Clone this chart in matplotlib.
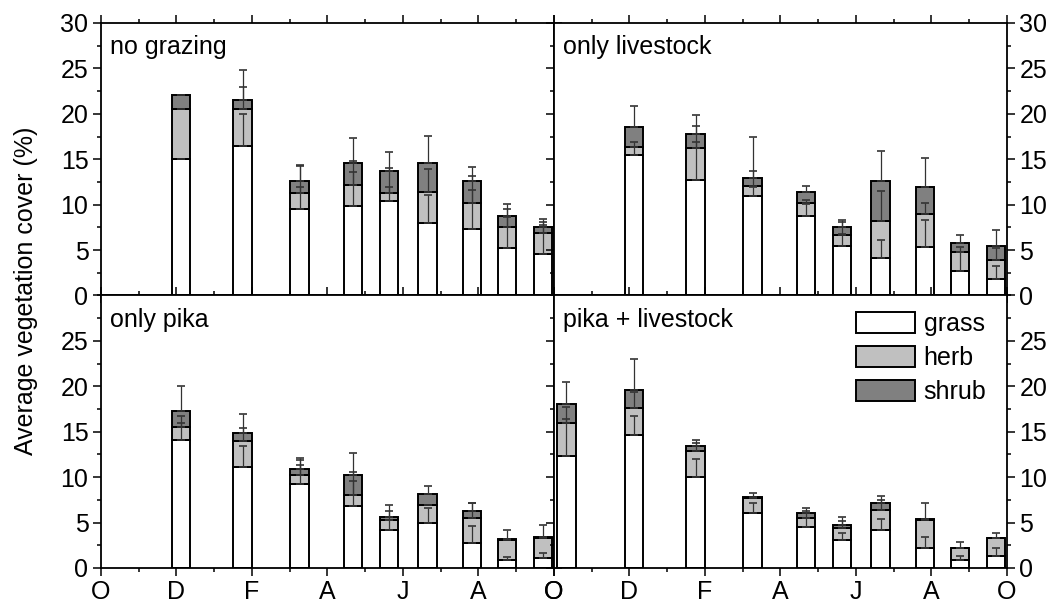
import numpy as np
import matplotlib
matplotlib.use('Agg')
import matplotlib.pyplot as plt
from matplotlib.ticker import MultipleLocator

plt.rcParams['font.family'] = ['Liberation Sans', 'DejaVu Sans']
plt.rcParams['font.size'] = 18

# months counted from 1 October
month_labels = ['O', 'D', 'F', 'A', 'J', 'A', 'O']
x_dates = [2.11, 3.75, 5.26, 6.68, 7.63, 8.65, 9.82, 10.75, 11.72]
x_dates_pl = [0.33] + x_dates

nan = np.nan

# no grazing
ng_grass = [15.0, 16.45, 9.5, 9.8, 10.35, 7.95, 7.3, 5.2, 4.6]
ng_herb = [5.55, 4.1, 1.75, 2.4, 0.95, 3.45, 2.9, 2.35, 2.25]
ng_shrub = [1.5, 1.0, 1.35, 2.35, 2.4, 3.2, 2.4, 1.15, 0.7]
ng_grass_se = [nan, 3.55, 2.45, 3.8, 1.55, 3.1, 4.3, 3.4, 3.2]
ng_herb_se = [nan, 2.4, 3.0, 2.6, 2.75, 2.55, 2.95, 2.0, 1.25]
ng_shrub_se = [nan, 3.25, 1.8, 2.8, 2.15, 2.95, 1.6, 1.35, 0.85]

# only livestock
ol_grass = [15.5, 12.75, 10.9, 8.7, 5.45, 4.1, 5.3, 2.65, 1.85]
ol_herb = [0.9, 3.5, 1.1, 1.45, 1.25, 4.1, 3.7, 2.1, 2.1]
ol_shrub = [2.1, 1.5, 0.95, 1.25, 0.8, 4.35, 2.9, 1.0, 1.55]
ol_grass_se = [1.4, 4.2, 1.0, 1.35, 1.35, 2.0, 3.05, 2.1, 1.4]
ol_herb_se = [nan, 2.4, 1.75, 0.4, 1.35, 3.3, 1.2, 0.55, 1.3]
ol_shrub_se = [2.35, 2.15, 4.45, 0.67, 0.85, 3.35, 3.25, 0.95, 1.7]

# only pika
op_grass = [14.05, 11.1, 9.25, 6.8, 4.2, 4.9, 2.7, 0.85, 1.15]
op_herb = [1.45, 2.85, 1.0, 1.2, 1.1, 2.05, 2.75, 2.25, 2.2]
op_shrub = [1.8, 0.95, 0.65, 2.2, 0.35, 1.2, 0.8, 0.05, 0.05]
op_grass_se = [1.9, 2.35, 2.1, 2.75, 1.05, 1.7, 1.95, 0.35, 0.5]
op_herb_se = [1.2, 1.5, 1.65, 2.55, 1.0, nan, 1.7, nan, nan]
op_shrub_se = [2.7, 2.05, 1.2, 2.5, 1.3, 0.85, 0.95, 1.05, 1.35]

# pika + livestock
pl_grass = [12.3, 14.6, 10.0, 6.05, 4.5, 3.1, 4.15, 2.15, 0.9, 1.3]
pl_herb = [3.7, 3.05, 2.9, 1.7, 1.05, 1.35, 2.25, 3.15, 1.3, 1.95]
pl_shrub = [2.05, 1.95, 0.55, 0.05, 0.5, 0.3, 0.8, 0.05, 0.0, 0.05]
pl_grass_se = [4.1, 2.1, 2.05, 1.15, 0.95, 0.8, 1.2, 1.25, 0.4, 0.95]
pl_herb_se = [1.7, 1.7, 0.85, nan, 0.7, 0.75, 1.1, nan, nan, nan]
pl_shrub_se = [2.45, 3.45, 0.65, 0.4, 0.6, 0.9, 0.7, 1.75, 0.65, 0.6]

panels = [
    ('no grazing', x_dates, ng_grass, ng_herb, ng_shrub, ng_grass_se, ng_herb_se, ng_shrub_se),
    ('only livestock', x_dates, ol_grass, ol_herb, ol_shrub, ol_grass_se, ol_herb_se, ol_shrub_se),
    ('only pika', x_dates, op_grass, op_herb, op_shrub, op_grass_se, op_herb_se, op_shrub_se),
    ('pika + livestock', x_dates_pl, pl_grass, pl_herb, pl_shrub, pl_grass_se, pl_herb_se, pl_shrub_se),
]

colors = ['white', '#c0c0c0', '#808080']
names = ['grass', 'herb', 'shrub']
bw = 0.48

fig, axs = plt.subplots(2, 2, figsize=(10.53, 6.05), dpi=100)
fig.subplots_adjust(left=0.0959, right=0.9563, top=0.962, bottom=0.0612, wspace=0, hspace=0)

for i, (title, xs, g, h, s, ge, he, se) in enumerate(panels):
    ax = axs.flat[i]
    xs = np.array(xs)
    parts = [np.array(g), np.array(h), np.array(s)]
    errs = [np.array(ge), np.array(he), np.array(se)]
    bottom = np.zeros(len(xs))
    handles = []
    for vals, c, n in zip(parts, colors, names):
        b = ax.bar(xs, vals, bw, bottom=bottom, color=c, edgecolor='black',
                   linewidth=1.4, label=n, zorder=2)
        handles.append(b)
        bottom = bottom + vals
    bottom = np.zeros(len(xs))
    for vals, e in zip(parts, errs):
        top = bottom + vals
        ax.errorbar(xs, top, yerr=[np.zeros(len(xs)), e], fmt='none',
                    ecolor='#333333', elinewidth=0.9, capsize=2.8,
                    capthick=1.2, zorder=3)
        bottom = top

    ax.set_xlim(0, 12)
    ax.set_ylim(0, 30)
    ax.set_xticks(np.arange(0, 13, 2))
    ax.xaxis.set_minor_locator(MultipleLocator(1))
    ax.yaxis.set_minor_locator(MultipleLocator(2.5))
    if i < 2:
        ax.set_yticks(np.arange(0, 31, 5))
        ax.set_xticklabels([])
    else:
        ax.set_yticks(np.arange(0, 30, 5))
        ax.set_xticklabels(month_labels)
    ax.tick_params(which='both', direction='out', top=True, right=True,
                   width=1.1, pad=3)
    ax.tick_params(which='major', length=6)
    ax.tick_params(which='minor', length=3)
    if i % 2 == 0:
        ax.tick_params(axis='y', labelleft=True, labelright=False)
    else:
        ax.tick_params(axis='y', labelleft=False, labelright=True)
    for sp in ax.spines.values():
        sp.set_linewidth(1.3)
    ax.text(0.021, 0.955, title, transform=ax.transAxes, ha='left', va='top')
    if i == 3:
        ax.legend(handles=handles, loc='upper left', bbox_to_anchor=(0.667, 0.94),
                  frameon=False, borderpad=0, borderaxespad=0, handlelength=2.35,
                  handleheight=0.95, labelspacing=0.38, handletextpad=0.35)

fig.text(0.025, 0.52, 'Average vegetation cover (%)', rotation=90,
         ha='center', va='center')

fig.savefig('out.png', dpi=100)
